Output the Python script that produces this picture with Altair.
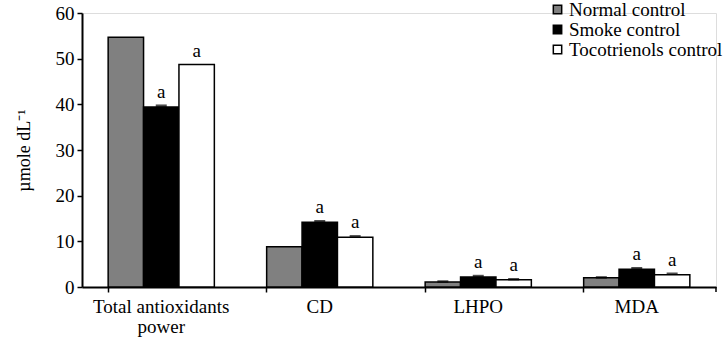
import altair as alt
import pandas as pd

categories = ["Total antioxidants power", "CD", "LHPO", "MDA"]
groups = ["Normal control", "Smoke control", "Tocotrienols control"]
normal = [54.7, 8.8, 1.1, 2.0]
smoke = [39.4, 14.2, 2.2, 3.9]
toco = [48.7, 10.9, 1.6, 2.7]
err_normal = [0.0, 0.0, 0.1, 0.1]
err_smoke = [0.3, 0.2, 0.2, 0.2]
err_toco = [0.0, 0.2, 0.1, 0.2]
sig_normal = ["", "", "", ""]
sig_smoke = ["a", "a", "a", "a"]
sig_toco = ["a", "a", "a", "a"]

rows = []
for i, c in enumerate(categories):
    for g, vals, errs, sigs in [
        (groups[0], normal, err_normal, sig_normal),
        (groups[1], smoke, err_smoke, sig_smoke),
        (groups[2], toco, err_toco, sig_toco),
    ]:
        rows.append({"cat": c, "group": g, "value": vals[i],
                     "cap": vals[i] + errs[i], "err": errs[i], "sig": sigs[i]})
df = pd.DataFrame(rows)

FONT = "Times New Roman, Liberation Serif, serif"
FS = 19
W, H = 634, 274

x = alt.X("cat:N", sort=categories, title=None,
          scale=alt.Scale(paddingInner=0.33, paddingOuter=0.165),
          axis=alt.Axis(labelAngle=0, bandPosition=0, ticks=True, tickSize=5,
                        tickColor="black", domainColor="black", domainWidth=2,
                        tickWidth=1.5, labelFontSize=FS, labelFont=FONT,
                        labelColor="black", labelPadding=5, labelLineHeight=20,
                        labelExpr="datum.value == 'Total antioxidants power' ? ['Total antioxidants', 'power'] : datum.value"))
xo = alt.XOffset("group:N", sort=groups, scale=alt.Scale(paddingInner=0, paddingOuter=0))

base = alt.Chart(df)

bars = base.mark_bar(stroke="black", strokeWidth=1.5).encode(
    x=x, xOffset=xo,
    y=alt.Y("value:Q", title="µmole dL⁻¹",
            scale=alt.Scale(domain=[0, 60], nice=False),
            axis=alt.Axis(values=[0, 10, 20, 30, 40, 50, 60], grid=False,
                          tickSize=5, tickColor="black", tickWidth=1.5,
                          domainColor="black", domainWidth=2,
                          labelFontSize=FS, labelFont=FONT, labelColor="black",
                          labelPadding=3, titleFont=FONT, titleFontSize=18,
                          titleFontWeight="normal", titleColor="black",
                          titlePadding=22)),
    fill=alt.Fill("group:N", sort=groups,
                  scale=alt.Scale(domain=groups, range=["#808080", "#000000", "#ffffff"]),
                  legend=alt.Legend(title=None, orient="none", legendX=466, legendY=-13,
                                    symbolType="square", symbolSize=70,
                                    symbolStrokeColor="black", symbolStrokeWidth=1.5,
                                    labelFont=FONT, labelFontSize=FS, labelColor="black",
                                    rowPadding=-2, labelOffset=2)),
)

caps = base.transform_filter("datum.err > 0").mark_tick(
    color="black", thickness=2.5, size=11, orient="horizontal").encode(
    x=x, xOffset=xo, y=alt.Y("cap:Q"))

labels = base.mark_text(font=FONT, fontSize=FS, baseline="bottom", dy=-4,
                        color="black").encode(
    x=x, xOffset=xo, y=alt.Y("cap:Q"), text="sig:N")

end_tick = alt.Chart(pd.DataFrame({"k": [0]})).mark_rule(color="black", strokeWidth=1.5).encode(
    x=alt.value(W), y=alt.value(H), y2=alt.value(H + 5))

chart = alt.layer(bars, caps, labels, end_tick).properties(
    width=W, height=H,
    autosize=alt.AutoSizeParams(type="none"),
    padding={"left": 82, "top": 13, "right": 7, "bottom": 61},
).configure_view(stroke=None).configure(background="white")

chart.save("out.html", embed_options={"renderer": "svg", "actions": False})
